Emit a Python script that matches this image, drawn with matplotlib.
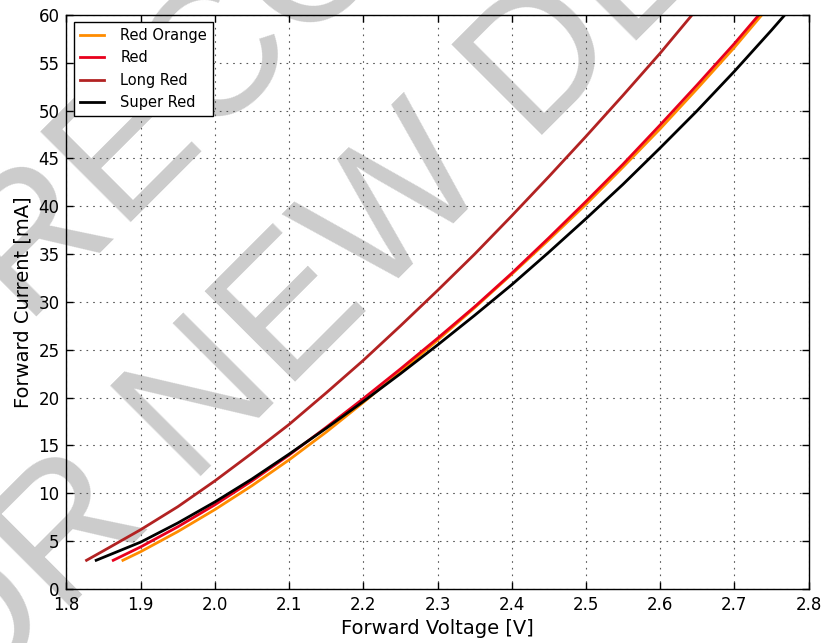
import matplotlib
matplotlib.use('Agg')
import matplotlib.pyplot as plt

plt.rcParams['lines.scale_dashes'] = False

# Curvas I-V
red_orange_v = [1.876, 1.90, 1.95, 2.00, 2.05, 2.10, 2.15, 2.20, 2.25, 2.30, 2.35, 2.40, 2.45, 2.50, 2.55, 2.60, 2.65, 2.70, 2.737]
red_orange_i = [3.0, 3.9, 6.0, 8.3, 10.8, 13.5, 16.4, 19.5, 22.7, 26.0, 29.4, 32.9, 36.5, 40.2, 44.1, 48.1, 52.3, 56.6, 60.0]

red_v = [1.863, 1.90, 1.95, 2.00, 2.05, 2.10, 2.15, 2.20, 2.25, 2.30, 2.35, 2.40, 2.45, 2.50, 2.55, 2.60, 2.65, 2.70, 2.733]
red_i = [3.0, 4.4, 6.5, 8.8, 11.3, 14.0, 16.9, 19.9, 23.0, 26.2, 29.5, 33.0, 36.7, 40.5, 44.4, 48.5, 52.7, 57.0, 60.0]

long_red_v = [1.827, 1.85, 1.90, 1.95, 2.00, 2.05, 2.10, 2.15, 2.20, 2.25, 2.30, 2.35, 2.40, 2.45, 2.50, 2.55, 2.60, 2.643]
long_red_i = [3.0, 4.0, 6.2, 8.6, 11.3, 14.2, 17.2, 20.5, 23.9, 27.5, 31.2, 35.0, 39.0, 43.1, 47.3, 51.6, 56.0, 60.0]

super_red_v = [1.840, 1.90, 1.95, 2.00, 2.05, 2.10, 2.15, 2.20, 2.25, 2.30, 2.35, 2.40, 2.45, 2.50, 2.55, 2.60, 2.65, 2.70, 2.75, 2.768]
super_red_i = [3.0, 4.9, 6.9, 9.1, 11.5, 14.1, 16.8, 19.6, 22.5, 25.5, 28.6, 31.8, 35.2, 38.7, 42.3, 46.1, 50.0, 54.1, 58.4, 60.0]

labels = ['Red Orange', 'Red', 'Long Red', 'Super Red']
colors = ['#FF8C00', '#E8001C', '#B22222', '#000000']

x_ticks = [1.8, 1.9, 2.0, 2.1, 2.2, 2.3, 2.4, 2.5, 2.6, 2.7, 2.8]
y_ticks = [0, 5, 10, 15, 20, 25, 30, 35, 40, 45, 50, 55, 60]

fig = plt.figure(figsize=(8.24, 6.43), dpi=100, facecolor='white')
ax = fig.add_axes([0.0807, 0.084, 0.9005, 0.8927])
ax.patch.set_visible(False)

# Marca de agua detras de todo
wm = dict(rotation=45, rotation_mode='anchor', ha='left', va='baseline',
          fontsize=133, color='#cccccc', zorder=-1, family='Liberation Sans')
fig.text(-0.3444, 0.0098, 'NOT RECOMMENDED', **wm)
fig.text(-0.1476, -0.2426, 'FOR NEW DESIGNS', **wm)

series = [(red_orange_v, red_orange_i), (red_v, red_i),
          (long_red_v, long_red_i), (super_red_v, super_red_i)]
for (v, i), lab, col in zip(series, labels, colors):
    ax.plot(v, i, color=col, lw=2, label=lab)

ax.set_xlim(1.8, 2.8)
ax.set_ylim(0, 60)
ax.set_xticks(x_ticks)
ax.set_yticks(y_ticks)
ax.set_xticklabels([f'{t:.1f}' for t in x_ticks])
ax.tick_params(direction='in', top=True, right=True, length=5, width=1,
               labelsize=12, pad=5)
ax.grid(True, color='0.35', linestyle=(0, (1.2, 3.6)), linewidth=0.8)
for s in ax.spines.values():
    s.set_linewidth(1.0)

ax.set_xlabel('Forward Voltage [V]', fontsize=14, labelpad=4)
ax.set_ylabel('Forward Current [mA]', fontsize=14, labelpad=4)

leg = ax.legend(loc='upper left', fontsize=10.5, fancybox=False, framealpha=1,
                edgecolor='k', handlelength=1.7, handletextpad=1.1,
                labelspacing=0.5, borderaxespad=0.5, borderpad=0.4)
leg.get_frame().set_linewidth(1.0)

fig.savefig('out.png', dpi=100)
